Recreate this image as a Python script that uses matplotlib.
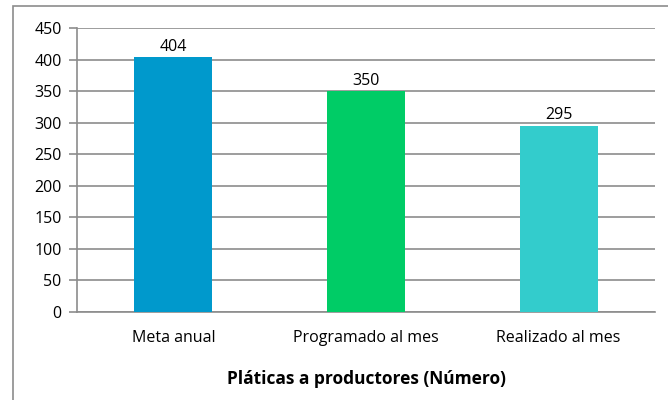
import matplotlib
matplotlib.use("Agg")
import matplotlib.pyplot as plt
from matplotlib.patches import Rectangle

categories = ["Meta anual", "Programado al mes", "Realizado al mes"]
values = [404, 350, 295]
colors = ["#0099CC", "#00CC66", "#33CCCC"]
yticks = [0, 50, 100, 150, 200, 250, 300, 350, 400, 450]
title = "Pláticas a productores (Número)"

plt.rcParams['font.family'] = ['Open Sans', 'DejaVu Sans']

fig = plt.figure(figsize=(6.68, 4.0), dpi=100)
W, H = 668, 400
# outer border
fig.patches.append(Rectangle((13 / W, -0.05), 1.1, 1 - 6 / H + 0.05, transform=fig.transFigure,
                             fill=False, edgecolor="#8c8c8c", linewidth=1.2))

ax = fig.add_axes([77 / W, 1 - 312 / H, (655 - 77) / W, (312 - 28) / H])
x = range(len(categories))
bars = ax.bar(x, values, width=0.405, color=colors, zorder=3)
ax.set_xlim(-0.5, len(categories) - 0.5)
ax.set_ylim(0, 450)
ax.set_yticks(yticks)
ax.set_yticklabels([str(t) for t in yticks], fontsize=11.5, color="#000000")
ax.set_xticks(list(x))
ax.set_xticklabels(categories, fontsize=11.5)
ax.tick_params(axis='x', length=0, pad=13)
ax.tick_params(axis='y', length=6, width=1.2, color="#8c8c8c", pad=5)
ax.grid(axis='y', color="#8c8c8c", linewidth=1.2, zorder=0)
for s in ["top", "right"]:
    ax.spines[s].set_visible(False)
for s in ["left", "bottom"]:
    ax.spines[s].set_color("#8c8c8c")
    ax.spines[s].set_linewidth(1.2)

for b, v in zip(bars, values):
    ax.text(b.get_x() + b.get_width() / 2, v + 4, str(v), ha='center', va='bottom', fontsize=11.5)

fig.text((77 + 655) / 2 / W, 1 - 379 / H, title, ha='center', va='center', fontsize=12.5, fontweight='bold')

fig.savefig("out.png", dpi=100)
